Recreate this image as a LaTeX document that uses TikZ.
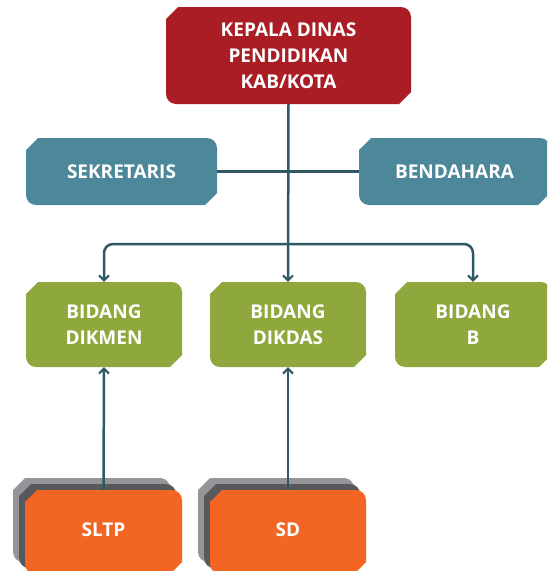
\documentclass[tikz,border=0pt]{standalone}
\usepackage{fontspec}
\setmainfont{Open Sans}
\usetikzlibrary{arrows.meta,calc}
\definecolor{cred}{HTML}{AA1D25}
\definecolor{cteal}{HTML}{4C8899}
\definecolor{cgreen}{HTML}{8FA83E}
\definecolor{corange}{HTML}{F26522}
\definecolor{cdgray}{HTML}{58595B}
\definecolor{clgray}{HTML}{939598}
\definecolor{cline}{HTML}{2E5963}
\tikzset{
  shapefill/.style={path picture={
    \fill[#1] let \p1=(path picture bounding box.south west), \p2=(path picture bounding box.north east) in
      (\x1,\y2-12pt) -- (\x1+12pt,\y2) -- (\x2-10pt,\y2) arc[start angle=90,end angle=0,radius=10pt]
      -- (\x2,\y1+12pt) -- (\x2-12pt,\y1) -- (\x1+10pt,\y1) arc[start angle=270,end angle=180,radius=10pt] -- cycle;}},
  orgbox/.style={shapefill=#1, inner sep=0pt, text=white, align=center,
    font=\fontsize{19}{26}\selectfont\bfseries},
  conn/.style={draw=cline, line width=2.5pt},
  tip/.style={-{Straight Barb[length=5pt,width=10pt,line width=2pt]}}
}
\begin{document}
\begin{tikzpicture}[x=1pt,y=1pt]
\useasboundingbox (0,0) rectangle (547,-571);
\clip (0,0) rectangle (547,-571);
% boxes
\node[orgbox=cred, minimum width=245pt, minimum height=97pt] (kepala) at (288.5,-55.5) {KEPALA DINAS\\PENDIDIKAN\\KAB/KOTA};
\node[orgbox=cteal, minimum width=191pt, minimum height=67pt] (sek) at (121.5,-171.5) {SEKRETARIS};
\node[orgbox=cteal, minimum width=191pt, minimum height=67pt] (ben) at (454.5,-171.5) {BENDAHARA};
\node[orgbox=cgreen, minimum width=156pt, minimum height=85pt] (dikmen) at (104,-324.5) {BIDANG\\DIKMEN};
\node[orgbox=cgreen, minimum width=156pt, minimum height=85pt] (dikdas) at (288,-324.5) {BIDANG\\DIKDAS};
\node[orgbox=cgreen, minimum width=156pt, minimum height=85pt] (bidb) at (473,-324.5) {BIDANG\\B};
% stacked boxes
\node[orgbox=clgray, minimum width=157pt, minimum height=84pt] (sltpb2) at (91.5,-520) {};
\node[orgbox=cdgray, minimum width=157pt, minimum height=84pt] (sltpb1) at (97.5,-526) {};
\node[orgbox=corange, minimum width=157pt, minimum height=84pt] (sltp) at (103.5,-532) {\raisebox{5pt}{SLTP}};
\node[orgbox=clgray, minimum width=156pt, minimum height=84pt] (sdb2) at (276,-520) {};
\node[orgbox=cdgray, minimum width=156pt, minimum height=84pt] (sdb1) at (282,-526) {};
\node[orgbox=corange, minimum width=156pt, minimum height=84pt] (sd) at (288,-532) {\raisebox{5pt}{SD}};
% connectors
\coordinate (hub) at (288,-244);
\draw[conn] (sek.east) -- (ben.west);
\draw[conn, tip] (kepala.south) -- (dikdas.north);
\draw[conn, tip, rounded corners=9pt] (hub) -| (dikmen.north);
\draw[conn, tip, rounded corners=9pt] (hub) -| (bidb.north);
\draw[conn, tip] (sltp.north) -- (dikmen.south);
\draw[conn, tip] (sd.north) -- (dikdas.south);
\end{tikzpicture}
\end{document}
